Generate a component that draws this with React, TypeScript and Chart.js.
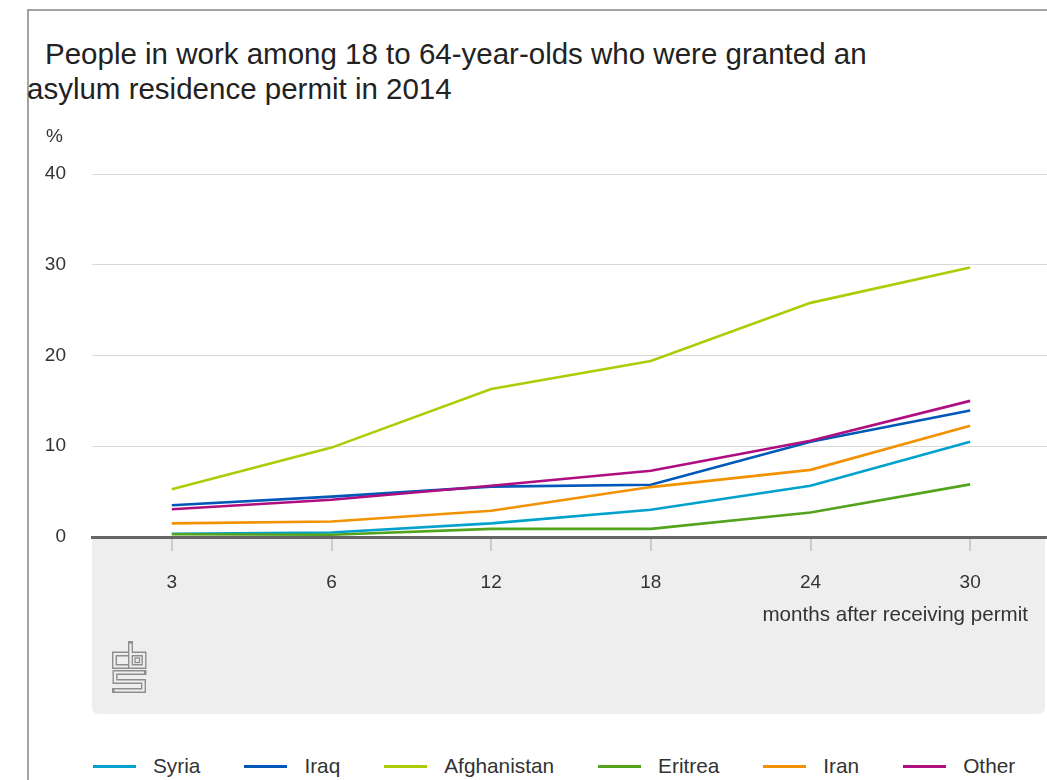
import React, { useEffect, useRef } from "react";
import { Chart, registerables } from "chart.js";

Chart.register(...registerables);

// Months after receiving the permit
const months = ["3", "6", "12", "18", "24", "30"];

// Share of 18 to 64-year-olds in work (%)
const syria = [0.35, 0.5, 1.5, 3.0, 5.65, 10.5];
const iraq = [3.5, 4.45, 5.55, 5.75, 10.5, 13.95];
const afghanistan = [5.25, 9.85, 16.3, 19.4, 25.8, 29.7];
const eritrea = [0.3, 0.25, 0.9, 0.9, 2.7, 5.8];
const iran = [1.5, 1.7, 2.9, 5.5, 7.4, 12.25];
const other = [3.05, 4.1, 5.65, 7.3, 10.6, 15.0];

const seriesNames = ["Syria", "Iraq", "Afghanistan", "Eritrea", "Iran", "Other"];
const seriesColors = ["#00a1cd", "#0058b8", "#afcb05", "#53a31d", "#f39200", "#af0e80"];
const seriesValues = [syria, iraq, afghanistan, eritrea, iran, other];

const yMin = 0;
const yMax = 40;
const yStep = 10;

const titleLines = ["People in work among 18 to 64-year-olds who were granted an", "asylum residence permit in 2014"];
const unitLabel = "%";
const xAxisTitle = "months after receiving permit";

const FONT = '"Liberation Sans", Arial, Helvetica, sans-serif';
const PANEL = "#eeeeee";

// Grey panel under the x axis, axis captions and the cbs mark
const decorPlugin = {
  id: "decor",
  beforeDraw(chart: any) {
    const { ctx, chartArea } = chart;
    const left = chartArea.left;
    const right = 1017;
    const top = chartArea.bottom;
    const bottom = chart.height;
    const r = 7;
    ctx.save();
    ctx.fillStyle = PANEL;
    ctx.beginPath();
    ctx.moveTo(left, top);
    ctx.lineTo(right, top);
    ctx.lineTo(right, bottom - r);
    ctx.quadraticCurveTo(right, bottom, right - r, bottom);
    ctx.lineTo(left + r, bottom);
    ctx.quadraticCurveTo(left, bottom, left, bottom - r);
    ctx.closePath();
    ctx.fill();
    ctx.restore();
  },
  afterDraw(chart: any) {
    const { ctx, chartArea } = chart;
    ctx.save();
    ctx.fillStyle = "#333333";
    ctx.font = `19px ${FONT}`;
    ctx.textAlign = "left";
    ctx.textBaseline = "middle";
    ctx.fillText(unitLabel, 18, 27);

    ctx.font = `20.6px ${FONT}`;
    ctx.textAlign = "right";
    ctx.fillText(xAxisTitle, 1000, chartArea.bottom + 78);

    // cbs mark, drawn as outlined strokes
    const ox = 85;
    const oy = chartArea.bottom + 106;
    const paths: number[][][] = [
      [[15, 11], [1.5, 11], [1.5, 23.5], [15, 23.5]],
      [[17.5, 0.5], [17.5, 23.5], [31, 23.5], [31, 11], [17.5, 11]],
      [[31, 29.5], [2, 29.5], [2, 38.5], [30.5, 38.5], [30.5, 47.5], [1.5, 47.5]],
    ];
    const stroke = (pts: number[][]) => {
      ctx.beginPath();
      pts.forEach(([px, py], i) => {
        if (i === 0) ctx.moveTo(ox + px, oy + py);
        else ctx.lineTo(ox + px, oy + py);
      });
      ctx.stroke();
    };
    ctx.lineJoin = "miter";
    ctx.strokeStyle = "#8e8e8e";
    ctx.lineWidth = 5;
    ctx.lineCap = "square";
    paths.forEach(stroke);
    ctx.strokeStyle = PANEL;
    ctx.lineWidth = 2.2;
    ctx.lineCap = "butt";
    paths.forEach(stroke);
    ctx.strokeStyle = "#8e8e8e";
    ctx.lineWidth = 1.3;
    ctx.strokeRect(ox + 22, oy + 15, 4.5, 4.5);
    ctx.restore();
  },
};

function LineChart() {
  const canvasRef = useRef<HTMLCanvasElement | null>(null);

  useEffect(() => {
    if (!canvasRef.current) return;
    const chart = new Chart(canvasRef.current, {
      type: "line",
      data: {
        labels: months,
        datasets: seriesNames.map((name, i) => ({
          label: name,
          data: seriesValues[i],
          borderColor: seriesColors[i],
          backgroundColor: seriesColors[i],
          borderWidth: 2.6,
          pointRadius: 0,
          tension: 0,
          fill: false,
          order: seriesNames.length - i,
        })),
      },
      options: {
        animation: false,
        responsive: false,
        maintainAspectRatio: false,
        layout: { padding: { top: 64, left: 0, right: 0, bottom: 0 } },
        plugins: {
          legend: { display: false },
          title: { display: false },
          tooltip: { enabled: false },
        },
        scales: {
          x: {
            type: "category",
            offset: true,
            grid: {
              offset: false,
              drawOnChartArea: false,
              drawTicks: true,
              tickLength: 14,
              color: "#cccccc",
              lineWidth: 2,
            },
            border: { display: true, color: "#666666", width: 3 },
            ticks: {
              font: { family: FONT, size: 19 },
              color: "#333333",
              padding: 20,
              maxRotation: 0,
            },
            afterFit: (s: any) => {
              s.height = 177;
            },
          },
          y: {
            min: yMin,
            max: yMax,
            ticks: {
              stepSize: yStep,
              padding: 26,
              font: { family: FONT, size: 19 },
              color: "#333333",
            },
            grid: {
              drawTicks: false,
              lineWidth: 1,
              color: (c: any) => (c.tick && c.tick.value === 0 ? "rgba(0,0,0,0)" : "#d9d9d9"),
            },
            border: { display: false },
            afterFit: (s: any) => {
              s.width = 64;
            },
          },
        },
      },
      plugins: [decorPlugin],
    } as any);
    return () => chart.destroy();
  }, []);

  return (
    <canvas
      ref={canvasRef}
      width={1022}
      height={604}
      style={{ position: "absolute", left: 28, top: 110, width: 1022, height: 604 }}
    />
  );
}

export default function App() {
  return (
    <div
      style={{
        position: "fixed",
        left: 0,
        top: 0,
        width: 1047,
        height: 780,
        overflow: "hidden",
        background: "#ffffff",
        fontFamily: FONT,
      }}
    >
      <div
        style={{
          position: "absolute",
          left: 27,
          top: 9,
          width: 1100,
          height: 900,
          borderLeft: "2px solid #a3a3a3",
          borderTop: "2px solid #a3a3a3",
        }}
      />
      <div style={{ position: "absolute", left: 45, top: 36, fontSize: 29.5, lineHeight: "36px", color: "#222222", whiteSpace: "nowrap" }}>
        {titleLines[0]}
      </div>
      <div style={{ position: "absolute", left: 27, top: 71, fontSize: 29.5, lineHeight: "36px", color: "#222222", whiteSpace: "nowrap" }}>
        {titleLines[1]}
      </div>
      <LineChart />
      <div
        style={{
          position: "absolute",
          left: 93,
          top: 754,
          display: "flex",
          alignItems: "center",
          gap: 44,
          fontSize: 20.8,
          lineHeight: "24px",
          color: "#333333",
          whiteSpace: "nowrap",
        }}
      >
        {seriesNames.map((name, i) => (
          <div key={name} style={{ display: "flex", alignItems: "center" }}>
            <span style={{ display: "inline-block", width: 43, height: 3, background: seriesColors[i], marginRight: 17 }} />
            <span>{name}</span>
          </div>
        ))}
      </div>
    </div>
  );
}
